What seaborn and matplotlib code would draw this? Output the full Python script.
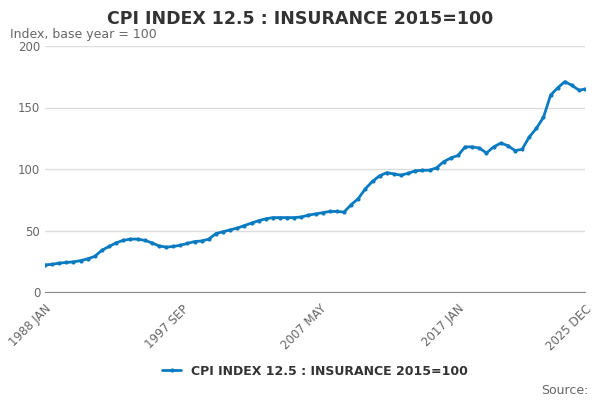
import numpy as np
import pandas as pd
import matplotlib
matplotlib.use('Agg')
import matplotlib.pyplot as plt
import seaborn as sns

# half-yearly readings (Jan / Jul) plus the last month
months = [f"{y} {m}" for y in range(1988, 2026) for m in ("JAN", "JUL")] + ["2025 DEC"]
values = [22, 22.5, 23.5, 24, 24.5, 25.5, 27, 29, 34, 37, 40, 42, 43, 43, 42, 40,
          37.5, 36.5, 37, 38, 39.5, 41, 41.5, 43, 47.5, 49, 50.5, 52, 54, 56, 58, 59.5,
          60.5, 60.5, 60.5, 60.5, 61, 62.5, 63.5, 64.5, 65.5, 65.5, 65, 71, 76, 84, 90, 94.5,
          97, 96, 95, 96.5, 98.5, 99, 99, 101, 106, 109, 111, 118, 118, 117, 113, 118,
          121, 119, 115, 116, 126, 133, 142, 160, 166, 171, 168, 164, 165]
tick_labels = ["1988 JAN", "1997 SEP", "2007 MAY", "2017 JAN", "2025 DEC"]

month_names = ["JAN", "FEB", "MAR", "APR", "MAY", "JUN", "JUL", "AUG", "SEP", "OCT", "NOV", "DEC"]
def month_index(label):
    y, m = label.split()
    return (int(y) - 1988) * 12 + month_names.index(m)

df = pd.DataFrame({"t": [month_index(m) for m in months], "value": values})
series_name = "CPI INDEX 12.5 : INSURANCE 2015=100"
blue = "#0b7bc1"

sns.set_style("white")
plt.rcParams['font.family'] = ['DejaVu Sans']
fig, ax = plt.subplots(figsize=(6, 4), dpi=100)
sns.lineplot(data=df, x="t", y="value", ax=ax, color=blue, marker="o", markersize=3,
             markeredgewidth=0, linewidth=2, label=series_name)

ax.set_xlim(0, month_index("2025 DEC"))
ax.set_ylim(0, 200)
ax.set_yticks([0, 50, 100, 150, 200])
ax.yaxis.grid(True, color="#dddddd", linewidth=1)
ax.set_xticks([month_index(t) for t in tick_labels])
ax.set_xticklabels(tick_labels, rotation=45, ha="right", rotation_mode="anchor")
ax.tick_params(axis="both", labelsize=8.5, colors="#666666", length=0)
ax.tick_params(axis="x", length=4, color="#888888")
for s in ["top", "right", "left"]:
    ax.spines[s].set_visible(False)
ax.spines["bottom"].set_color("#888888")
ax.set_xlabel("")
ax.set_ylabel("")

fig.suptitle(series_name, fontsize=12.5, fontweight="bold", color="#333333", y=0.975)
fig.text(0.017, 0.905, "Index, base year = 100", fontsize=9, color="#666666")
fig.text(0.98, 0.015, "Source:", fontsize=9, color="#666666", ha="right")
leg = ax.legend(loc="upper center", bbox_to_anchor=(0.5, -0.25), frameon=False, fontsize=9,
                handlelength=1.5)
for t in leg.get_texts():
    t.set_color("#333333")
    t.set_fontweight("bold")

fig.subplots_adjust(left=0.075, right=0.975, top=0.885, bottom=0.27)
fig.savefig("out.png", dpi=100)
